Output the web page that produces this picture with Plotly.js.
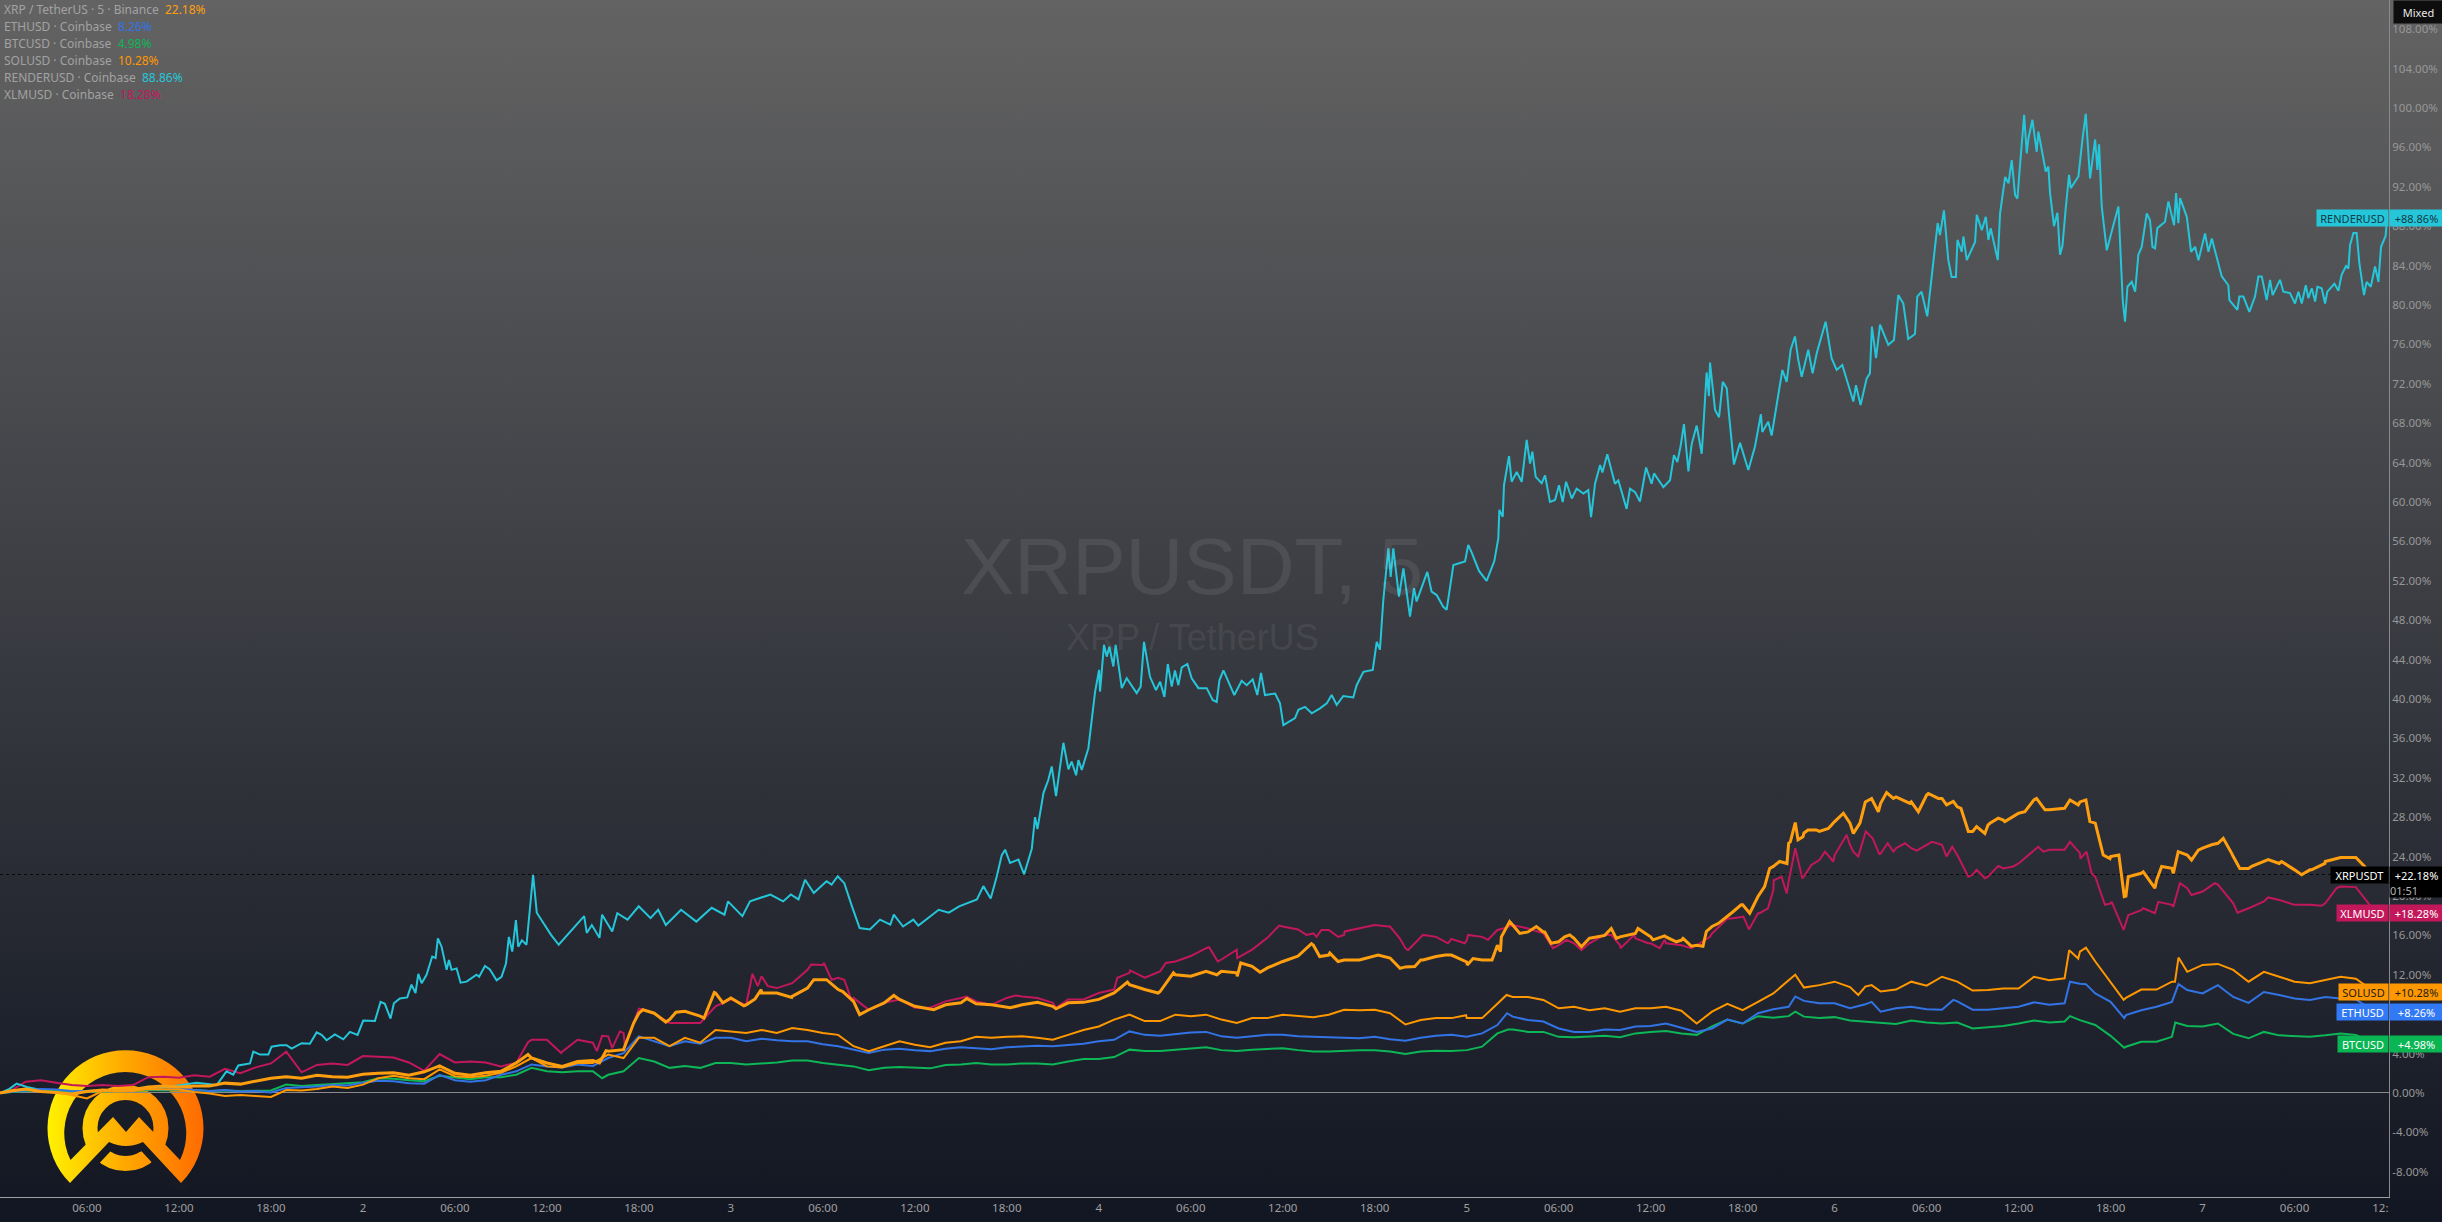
<!DOCTYPE html>
<html>
<head>
<meta charset="utf-8">
<script src="https://cdn.plot.ly/plotly-3.0.1.min.js"></script>
<style>
html,body{margin:0;padding:0;width:2442px;height:1222px;overflow:hidden;background:linear-gradient(180deg,#636363 0%,#121622 100%);}
#chart{width:2442px;height:1222px;}
</style>
</head>
<body>
<div id="chart"></div>
<script>
// Hours since the start of day 1 (shared by five of the series)
const hours = [0.33,
 1,2,3,4,5,6,7,8,9,10,11,12,13,14,15,16,17,18,19,20,
 21,22,23,24,25,26,27,28,29,30,31,32,33,34,35,36,37,38,39,40,
 41,42,43,44,45,46,47,48,49,50,51,52,53,54,55,56,57,58,59,60,
 61,62,63,64,65,66,67,68,69,70,71,72,73,74,75,76,77,78,79,80,
 81,82,83,84,85,86,87,88,89,90,91,92,93,94,95,96,97,98,99,100,
 101,102,103,104,105,106,107,108,109,110,111,112,113,114,115,116,117,118,119,120,
 121,122,123,124,125,126,127,128,129,130,131,132,133,134,135,136,137,138,139,140,
 141,142,143,144,145,146,147,148,149,150,151,152,153,154,155,156];

const xrp = [0,
 .2,.4,.15,.05,-.1,.15,.3,.25,.35,.6,
 .7,.6,.7,.7,1.0,.9,1.2,1.5,1.65,1.5,
 1.8,1.65,1.6,1.9,2.0,2.05,1.8,2.15,2.75,2.0,
 1.8,2.05,2.2,3.05,3.55,3.05,2.7,3.2,3.3,4.25,
 4.4,8.1,8.1,7.45,8.3,7.8,10.15,9.65,8.95,10.15,
 10.15,9.8,10.65,11.5,10.5,9.3,8.45,9.15,9.5,8.8,
 8.55,8.95,9.15,9.05,8.95,8.65,8.95,9.2,8.8,9.15,
 9.2,9.5,10.15,11,10.5,10.3,12,11.85,12.35,12.35,
 12.2,12.85,12.7,13.35,13.9,15,14,13.5,13.5,13.85,
 13.7,12.8,13.5,13.85,14,13.3,13.5,15,17.05,16.35,
 16.35,15.35,15.7,15.7,16,15.85,16.2,15.85,15.85,15.5,
 15,16.9,17.9,19.1,19.95,23,25.35,26.4,26.55,27.55,
 27.4,29.55,29.4,30.05,29.55,30.25,29.9,29.05,26.55,27.2,
 27.7,28.4,29.75,28.75,28.9,29.55,27.4,24,20,22.3,
 21.6,22.8,24.15,24.85,25.35,24,22.8,23.5,23.3,22.65,
 22.65,23.5,23.9,23.9,22.3,22.18];
const xrpExtraHours = [34.77,39.43,39.86,41.66,42.26,43.76,44.42,46.25,46.92,47.48,48.85,49.58,49.98,51.97,53.41,54.24,55.3,56.4,57.73,58.63,61.23,63.39,66.22,69.21,73.87,75.87,76.87,79.7,81.03,81.26,82.52,85.43,85.87,86.41,87.07,87.61,90.22,91.65,92.61,93.15,94.6,96.04,96.41,97.65,98.2,98.26,98.8,99.46,100.54,101.09,101.5,102.39,102.72,103.48,104.02,105.43,105.76,107.17,108.15,108.91,109.67,110.11,110.65,111.41,111.63,112.4,113.37,113.9,114.46,115.43,115.76,116.41,116.89,117.11,117.43,117.61,117.93,118.26,118.8,119.59,120.57,121.22,121.65,122.41,122.85,123.39,123.83,124.91,125.46,126.11,126.76,127.3,127.74,128.24,128.72,129.26,129.8,130.13,130.67,131.1,132.41,133.17,133.72,135.35,135.89,136.39,136.65,137.52,137.96,138.54,138.89,139.15,140.13,140.89,141.33,142.09,142.41,143.28,143.72,144.59,145.35,145.89,146.43,147.2,148.28,149.15,150.46,151.11,151.98];
const xrpExtraValues = [3.9,3.05,4.3,7.1,8.45,7.2,8.2,7.6,10.2,9.15,8.85,9.55,10.5,9.7,11.5,11.5,10.3,7.95,8.95,9.9,8.45,9.6,8.65,8.55,11.25,10.15,12.2,12,11.85,13.2,12.25,14.5,15.15,13.85,14.2,13.35,14,12.65,12.85,13.5,14,13,13.65,13.5,14.35,15.85,17.4,16.2,16.9,16.35,15.2,15.85,16.05,14.85,15.7,16.7,15.7,16.7,15.55,15.95,15.35,15.7,14.9,14.9,16.4,17.2,18.4,19.1,18.25,20.95,22.8,23.5,23.3,25.5,27.45,25.7,26,26.7,26.7,26.85,28.4,26.35,27.4,29.9,28.55,30.5,29.9,29.4,28.55,30.4,29.9,29.25,29.6,28.9,26.55,27.05,26.35,27.4,27.9,27.55,28.55,29.9,28.75,29.75,29.25,29.75,27.55,24.15,23.8,24.15,19.95,21.95,22.45,20.8,23,22.3,24.5,23.65,24.65,25.2,25.85,24.35,22.8,23,23.7,23.5,22.15,22.65,23.3];

const xlm = [0,
 .2,1.15,1.3,1.05,.8,.7,.8,.7,.8,1.6,
 1.65,1.55,1.8,1.65,2.45,2,2.6,3.0,4.2,2.1,
 2.85,3,2.85,3.75,3.7,3.6,3.1,2.25,3.95,3.1,
 3.2,3.1,2.7,3.05,5.4,5.4,4.2,5.4,5.1,5.75,
 6.1,8.55,8.1,7.1,7.1,7.1,8.8,9.5,8.95,11.85,
 10.65,11.15,12.5,13,11.7,9.65,8.45,9.15,9.5,8.65,
 8.65,9.3,9.65,9.3,8.95,9.65,9.8,9.65,9.15,9.5,
 9.5,10.15,10.5,12.2,11.7,12.35,13.35,13.9,14.7,13.55,
 14.55,14.55,15.75,16.9,16.6,16.2,16.55,16.05,16.7,17.05,
 16.9,14.7,15.85,15.85,15.65,15.5,15.85,16.55,17.05,16.7,
 16.2,15,15.2,15.2,16.05,15,15.7,15.2,15.2,15,
 15,16.2,17.7,17.9,18.25,20.6,21.5,22,23.65,24.15,
 25.2,26.35,24.3,24.85,24.85,25.2,25.2,24.15,22.15,21.95,
 22.8,23.3,24.7,24.7,24.7,24.35,21.95,19.25,17.2,18.55,
 18.75,19.1,20.8,20.45,21.15,19.25,18.75,19.45,19.6,19.1,
 19.1,19.25,20.95,20.9,18.9,18.28];
const xlmExtraHours = [34.77,36.93,39.26,39.6,40.26,40.76,41.09,42.09,49.41,49.75,50.41,53.24,54.07,54.57,55.4,55.9,63.39,66.55,69.21,73.21,74.04,76.37,79.2,79.76,81.03,83.76,85.54,86.2,86.52,87.61,88.04,90.87,91.63,92.17,93.15,94.78,95.87,96.09,97.39,98.37,101.63,102.5,103.48,105.43,106.03,106.93,107.83,108.59,108.91,110.65,111.87,113.37,114.05,114.41,115.11,115.65,116.03,116.54,116.87,117.43,117.89,118.48,119.37,119.91,120.78,121.22,121.54,122.03,122.48,122.91,123.46,123.83,124.59,125.35,126.35,127.3,127.67,128.72,129.26,129.8,130.67,131.65,133.28,133.61,135.35,136.03,136.43,136.76,137.63,138.07,138.85,139.15,140.13,140.89,141.11,142.09,142.52,143.28,144.8,146.28,148.28,151.76,152.74];
const xlmExtraValues = [5.15,4.05,4.25,5.8,4.55,6.25,4.75,8.55,12.1,10.85,10.85,13.05,13.2,11.5,11.5,9.3,9.8,9.9,8.65,11.7,12.45,13.2,14.8,13.35,13.7,17,16.05,15.85,16.55,15.85,16.4,16.9,15.7,14.5,16.05,15.2,15.2,16.05,15.55,16.7,14.7,15.55,14.5,16.05,14.7,16.05,15.2,14.7,15.55,14.7,15.85,17.75,17.9,16.6,18.25,18.75,21.6,21.95,20.25,24.85,21.8,23.15,24.5,23.5,26.2,24.5,24,26.55,25.85,24.25,25.35,24.5,25.35,24.6,25.5,24,25,21.95,22.65,21.8,23.05,23,25,24.5,25.5,23.8,24.5,22.3,19.1,19.4,16.55,18.05,18.75,18.25,19.4,18.9,21.3,20.1,21.3,18.3,19.85,19,20.8];

const sol = [0,
 .2,.4,.15,.05,-.2,-.55,.2,.15,.2,.4,
 .35,.35,.1,-.05,-.3,-.2,-.3,-.4,.3,.25,
 .4,.65,.5,.85,1.5,1.75,1.5,1.4,2.4,1.7,
 1.6,1.75,2.05,2.7,3.55,2.7,2.6,3.05,3.05,3.9,
 3.55,5.6,5.6,4.75,5.6,5.1,6.4,6.25,6.1,6.4,
 6.1,6.6,6.4,6.1,5.9,4.75,4.25,4.75,5.25,4.9,
 4.65,5.1,5.25,5.7,5.6,5.7,5.75,5.6,5.4,5.9,
 6.4,6.75,7.45,7.95,7.3,7.3,7.95,7.8,7.95,7.45,
 7.1,7.6,7.6,7.95,7.8,7.7,7.95,8.45,8.4,8.45,
 8.1,6.95,7.4,7.6,7.6,7.6,7.6,9.05,9.75,9.75,
 9.45,8.6,8.75,8.4,8.6,8.25,8.6,8.6,8.75,8.35,
 7.05,8.25,9.05,8.4,9.25,10.1,11.45,10.7,10.95,11.3,
 10.75,10.8,10.3,10.5,11.3,10.9,11.8,11.3,10.4,10.45,
 10.6,10.6,11.8,11.45,11.65,14.35,13.35,11.3,9.65,10.5,
 10.5,11.3,12.3,13,13.1,12.5,11.3,12.3,11.8,11.3,
 11.15,11.5,11.8,11.6,10.5,10.28];
const solExtraHours = [95.96,98.6,117.43,121.54,122.41,135.3,135.89,136.39,138.85,142.2,142.43];
const solExtraValues = [7.9,9.95,12,9.95,10.95,14.5,13.65,14.75,9.45,11.3,13.75];

const eth = [0,
 .1,.3,.4,.35,.2,.15,.25,.25,.3,.4,
 .35,.4,.3,.2,.3,.15,.2,.05,.5,.55,
 .65,.8,.75,1.05,1.25,1.2,1.0,.95,1.85,1.3,
 1.15,1.3,1.85,2.2,2.9,2.7,2.6,2.9,2.75,3.55,
 4.05,5.75,5.25,4.75,5.25,5,5.6,5.6,5.25,5.5,
 5.35,5.25,5.25,4.95,4.75,4.4,4.05,4.4,4.5,4.35,
 4.25,4.5,4.65,4.55,4.45,4.65,4.75,4.8,4.75,4.9,
 5.0,5.25,5.4,6.25,5.9,5.8,6,6.15,6.2,5.75,
 5.6,5.75,5.9,5.9,5.75,5.7,5.65,5.55,5.55,5.7,
 5.45,5.3,5.6,5.8,5.9,5.7,6.05,6.9,7.75,7.4,
 7.25,6.55,6.2,6.2,6.45,6.4,6.75,6.8,7.05,6.65,
 6.2,6.55,7.45,7.05,8.1,8.5,8.75,9.35,9.1,9.1,
 8.6,9.0,8.25,8.6,8.75,8.5,8.45,9.3,8.45,8.45,
 8.6,8.75,9.2,8.95,9.1,11.1,10.1,9.25,7.9,8.4,
 8.75,9.25,10.45,10.1,10.95,9.75,9.15,10.25,9.95,9.6,
 9.45,9.75,9.6,9.5,8.5,8.26];
const ethExtraHours = [98.63,117.43,122.41,127.74,135.35,136.39,138.89,142.43];
const ethExtraValues = [8.1,9.8,9.25,9.45,11.3,11.05,7.6,11.05];

const btc = [0,
 .1,.2,.25,.2,.1,.1,.15,.15,.2,.3,
 .25,.3,.3,.2,.25,.2,.2,.25,.85,.7,
 .8,.9,1.0,1.1,1.5,1.45,1.3,1.2,1.75,1.55,
 1.4,1.6,1.6,1.85,2.55,2.2,2.1,2.2,2.2,1.85,
 2.2,3.55,3.2,2.55,2.75,2.55,3.05,3.05,2.9,3,
 3.1,3.3,3.3,3.05,2.9,2.7,2.3,2.55,2.65,2.55,
 2.5,2.85,2.9,3.05,2.9,2.9,3,3,2.9,3.2,
 3.45,3.45,3.65,4.4,4.25,4.25,4.4,4.5,4.65,4.35,
 4.25,4.4,4.5,4.55,4.35,4.2,4.2,4.3,4.35,4.35,
 4.2,3.95,4.2,4.3,4.25,4.35,4.7,6.05,6.45,6.2,
 6.2,5.7,5.65,5.7,5.8,5.65,6.05,6.2,6.3,6.05,
 5.9,6.75,7.45,7.05,7.8,7.65,7.8,7.75,7.6,7.7,
 7.35,7.25,7.15,7,7.35,7.15,7.05,7.15,6.55,6.65,
 6.8,7.05,7.35,7.15,7.25,7.4,6.9,5.8,4.7,5.2,
 5.2,5.7,6.8,6.75,7.05,6,5.55,6.2,5.85,5.75,
 5.7,5.85,6.05,5.9,5.1,4.98];
const btcExtraHours = [39.6,98.7,117.43,135.35,138.89,142.22];
const btcExtraValues = [1.5,6.45,8.25,7.8,4.6,7.15];

// RENDERUSD was read at its own, denser set of turning points
const renderHours = [.33,.87,1.41,2.07,3.15,4.67,6.85,9.89,13.15,14.46,15.1,15.54,15.87,16.63,16.85,17.28,17.83,18.04,18.59,19.02,19.35,20,20.54,20.98,21.3,21.63,22.17,22.72,23.15,23.65,24.02,24.78,25.15,25.43,25.8,26.02,26.41,26.89,27.17,27.43,27.61,27.83,28.15,28.52,28.74,28.89,29.13,29.46,29.61,29.78,30.11,30.37,30.76,31.41,31.58,31.96,32.28,32.72,33.04,33.33,33.52,33.74,33.98,34.13,34.37,
 34.67,35.10,35.34,35.77,36.27,36.77,37.27,37.93,38.43,38.6,38.93,39.43,39.6,40.26,40.59,41.26,41.99,42.76,43.26,43.76,44.75,45.75,46.75,47.58,47.81,48.75,49.25,50.58,51.41,51.91,52.41,52.84,53.41,54.24,54.57,54.97,55.4,55.9,56.4,57.07,57.73,58.4,58.63,59.23,59.9,60.23,61.56,62.22,62.89,64.05,
 64.47,64.95,65.34,65.67,65.89,66.21,66.76,67.13,67.63,67.84,68,68.39,68.71,68.93,69.21,69.69,70.02,70.23,70.52,70.67,70.89,71.32,71.54,71.76,72.02,72.08,72.34,72.52,72.69,72.95,73.1,73.5,73.82,74.47,74.73,74.95,75.34,75.73,76,76.28,76.5,76.76,76.97,77.19,77.41,77.78,78.06,78.5,79.04,79.43,79.69,79.87,80.13,80.84,81.32,81.65,82.04,82.34,82.58,82.84,83.5,83.82,84.04,84.8,85.02,85.45,85.89,86.43,86.87,87.19,87.52,87.95,88.6,88.82,89.26,89.87,90.13,90.34,90.56,90.89,91.04,91.21,91.58,91.87,91.97,92.3,92.56,92.73,93.43,93.71,94.04,94.47,94.69,94.91,95.13,95.89,96.1,96.34,96.8,97.3,97.8,
 98.06,98.13,98.35,98.43,98.76,98.93,99.26,99.59,99.91,100.13,100.28,100.5,100.89,101.11,101.43,101.76,102.02,102.26,102.48,102.85,103.17,103.61,103.93,104.11,104.37,104.7,104.85,105.17,105.67,105.89,106.43,106.65,106.98,107.3,107.7,108.06,108.22,108.83,109.26,109.52,109.74,109.96,110.17,110.46,110.67,111,111.33,111.65,111.8,111.87,112.2,112.46,112.7,112.96,113.11,113.43,113.83,114.37,114.8,115.19,115.28,115.67,115.89,116.22,116.59,116.87,117.13,117.41,117.63,117.85,118.28,118.56,118.83,119.41,119.8,120.13,120.5,121.22,121.39,121.69,122.09,122.3,122.43,122.7,122.96,123.5,123.87,124.15,124.48,124.8,125.24,125.39,125.67,126.04,126.43,126.72,126.87,127.13,127.41,127.63,127.91,
 128.01,128.29,128.4,128.62,128.94,129.16,129.27,129.6,129.86,130.03,130.18,130.47,130.64,130.79,131.12,131.34,131.55,131.77,131.92,132.1,132.36,132.53,132.64,132.9,133.18,133.29,133.51,133.77,133.94,134.05,134.31,134.53,134.7,134.86,135.07,135.29,135.4,135.9,136.16,136.38,136.66,136.99,137.14,137.25,137.42,137.75,138.18,138.51,138.79,138.94,139.1,139.38,139.6,139.81,140.03,140.36,140.57,140.73,140.9,141.05,141.55,141.77,142.14,142.27,142.42,142.53,142.97,143.25,143.51,143.73,144.16,144.38,144.6,145.25,145.68,145.75,146.27,146.4,146.66,147.05,147.42,147.64,147.86,148.18,148.4,148.57,149.05,149.27,149.7,150.03,150.25,150.47,150.73,150.9,151.12,151.34,151.49,151.77,151.99,152.14,152.6,152.86,153.07,153.36,153.51,153.62,153.84,154.05,154.23,154.53,154.7,154.97,155.25,155.47,155.64,155.79,155.94,156.03];

const render = [0,.35,.95,.6,.25,.15,.25,.3,1.05,.8,2.2,1.85,2.8,3.0,4.2,3.9,3.9,4.7,4.85,4.85,4.5,5.05,5,6.15,5.9,5.35,5.95,5.45,6.2,5.9,7.35,7.3,9.25,9.05,7.55,9.1,9.6,9.7,11,10.15,12.1,11.15,12,13.85,13.7,15.7,14.85,12.5,13.5,12.5,12.65,11.2,11.3,12,11.8,12.9,12.55,11.45,11.8,13.15,15.85,14.35,17.55,14.85,15.5,
 15.05,22.15,18.3,17.25,16.05,15.05,15.9,17.1,17.95,16.25,17.05,15.75,18.1,16.4,18.25,17.6,18.95,17.75,18.6,17.05,18.6,17.4,18.8,18.1,19.45,17.95,19.45,20.15,19.45,20.15,19.65,21.65,20.3,21.5,21.15,22,21.3,18.95,16.75,16.6,17.6,17.1,18.1,16.9,17.6,17,18.6,18.3,18.95,19.65,
 21,19.75,21.95,24.15,24.7,23.35,23.7,22.2,24.8,28,26.8,30.45,31.8,33.15,30.15,35.55,32.85,33.65,32.25,33.8,32.8,35,38.2,40.75,42.95,40.75,45.5,44.3,45.3,43.3,45.5,41.1,42.1,40.6,41.25,45.8,42.25,40.9,41.75,40.2,43.55,41.25,42.9,41.4,43.2,43.55,42.1,41.1,41.1,39.9,39.7,41.9,42.9,40.4,41.85,41.4,42,40.4,42.65,40.4,40.55,39.55,37.35,38.05,38.9,39.2,38.55,39.05,39.55,40.4,39.4,40.3,40.15,41.4,42.75,42.95,45.8,45,50.05,55.3,52.4,55.3,50.4,53.25,52.1,48.35,51.25,49.9,52.9,50.9,50.55,49.35,49.05,51.4,53.6,53.95,55.65,54.8,53,52,54,
 56.3,59.2,58.5,61.7,64.65,62.05,63.05,62.05,66.3,63.9,65.1,62.55,61.9,62.7,60,60.2,61.7,60,62.05,60.35,61.35,60.85,61.2,58.45,61.85,63.75,63,64.85,61.85,62.2,59.3,61.35,61,60.05,63.5,61.85,62.9,61.5,62.2,64.75,64.05,65.75,67.9,63.1,65.85,67.75,64.9,73.15,70.75,74.15,69.35,68.6,72.2,71.55,68.85,63.8,66,63.25,65.6,68.9,67.1,68.15,66.75,69.8,73.4,72.2,75.45,76.8,74.4,72.7,75.45,73.05,75.1,78.3,74.6,73.4,73.9,70.2,71.85,69.85,72.55,73.05,77.8,74.6,78,75.95,76.45,81,80.15,76.55,77.05,80.85,81.35,78.85,84.45,88.3,87.1,89.6,84.6,82.85,82.85,
 86.6,85.4,86.95,84.55,85.55,86.4,89.15,87.6,88.95,86.6,87.8,85.9,84.55,89.3,93,92.35,94.7,91.15,90.8,94.35,99.3,95.4,96.9,98.8,95.55,97.6,95.9,93.55,94.05,91.35,88,89.35,85.1,86,89.75,93.2,91.85,93.05,96.75,99.4,92.85,96.8,93.7,96.3,90,85.55,88.1,90,80.5,78.3,81.85,82.35,81.35,85.1,85.9,89.3,88.6,85.9,85.75,87.8,88.45,90.5,88.1,91.35,88.3,90.85,88.95,85.4,85.9,84.55,87.25,85.4,86.75,82.9,82,80.5,79.5,80.85,80.85,79.3,80.85,82.9,82.9,80.5,82.55,81,82.55,81.35,81.2,80.15,81.35,80.15,82,80.7,81.7,80.35,81.85,81.7,80.15,81.35,82.15,81.45,83.05,83.95,83.7,86.1,87.3,87.3,84.2,81,82.35,81.85,83.9,82.35,85.9,86.4,87,88.86];

const xTickVals = [6,12,18,24,30,36,42,48,54,60,66,72,78,84,90,96,102,108,114,120,126,132,138,144,150,155.6];
const xTickText = ["06:00","12:00","18:00","2","06:00","12:00","18:00","3","06:00","12:00","18:00","4","06:00","12:00","18:00","5","06:00","12:00","18:00","6","06:00","12:00","18:00","7","06:00","12:"];
const yTickVals = [-8,-4,0,4,8,12,16,20,24,28,32,36,40,44,48,52,56,60,64,68,72,76,80,84,88,92,96,100,104,108];
const yTickText = ["-8.00%","-4.00%","0.00%","4.00%","8.00%","12.00%","16.00%","20.00%","24.00%","28.00%","32.00%","36.00%","40.00%","44.00%","48.00%","52.00%","56.00%","60.00%","64.00%","68.00%","72.00%","76.00%","80.00%","84.00%","88.00%","92.00%","96.00%","100.00%","104.00%","108.00%"];

const legendNames = ["XRP / TetherUS · 5 · Binance","ETHUSD · Coinbase","BTCUSD · Coinbase","SOLUSD · Coinbase","RENDERUSD · Coinbase","XLMUSD · Coinbase"];
const legendValues = ["22.18%","8.26%","4.98%","10.28%","88.86%","18.28%"];
const colours = ["#ff9f0f","#3274e6","#0db657","#ff9800","#26c6da","#c2185b"];
const priceNames = ["XRPUSDT","ETHUSD","BTCUSD","SOLUSD","RENDERUSD","XLMUSD"];
const priceLast = [22.18,8.26,4.98,10.28,88.86,18.28];
const priceText = ["+22.18%","+8.26%","+4.98%","+10.28%","+88.86%","+18.28%"];
const priceBg = ["#000000","#3179f5","#0ab554","#ff9800","#26c6da","#c2185b"];
const priceFg = ["#ffffff","#ffffff","#ffffff","#1b1b1b","#123a44","#ffffff"];
const nameWidth = [57,51,50,49,71,51];
const valueWidth = [53,53,53,53,53,53];

const uiFont = "Noto Sans";
const PW = 2389, PH = 1197;

// Merge the hourly readings with the extra readings taken at turning points
function merged(h, v, eh, ev) {
  const rows = h.map((t,i)=>[t,v[i]]).concat(eh.map((t,i)=>[t,ev[i]]));
  rows.sort((a,b)=>a[0]-b[0]);
  return {x:rows.map(r=>r[0]), y:rows.map(r=>r[1])};
}

const logoSvg = `<svg xmlns="http://www.w3.org/2000/svg" width="170" height="150" viewBox="40 1040 170 150">
<defs><linearGradient id="g" gradientUnits="userSpaceOnUse" x1="47" y1="0" x2="204" y2="0">
<stop offset="0" stop-color="#fff200"/><stop offset="0.5" stop-color="#ffa800"/><stop offset="1" stop-color="#ff6a00"/></linearGradient></defs>
<circle cx="125.5" cy="1128" r="35.5" fill="none" stroke="url(#g)" stroke-width="15"/>
<path d="M66 1188 L109 1142 Q126 1152 143 1142 L186 1188" fill="none" stroke="#171a25" stroke-width="15" stroke-linejoin="round"/>
<path fill-rule="evenodd" fill="url(#g)" d="M70 1183 A78 78 0 1 1 181 1183 L143 1142 Q126 1150 109 1142 Z M70.5 1160 L113 1117 L126 1132 L139 1117 L180 1160 A61 61 0 1 0 70.5 1160 Z"/>
</svg>`;

const xrpLine = merged(hours,xrp,xrpExtraHours,xrpExtraValues);
const xlmLine = merged(hours,xlm,xlmExtraHours,xlmExtraValues);
const solLine = merged(hours,sol,solExtraHours,solExtraValues);
const ethLine = merged(hours,eth,ethExtraHours,ethExtraValues);
const btcLine = merged(hours,btc,btcExtraHours,btcExtraValues);

const traces = [
 {name:"XLMUSD", x:xlmLine.x, y:xlmLine.y, color:colours[5], w:2},
 {name:"RENDERUSD", x:renderHours, y:render, color:colours[4], w:2},
 {name:"BTCUSD", x:btcLine.x, y:btcLine.y, color:colours[2], w:2},
 {name:"ETHUSD", x:ethLine.x, y:ethLine.y, color:colours[1], w:2},
 {name:"SOLUSD", x:solLine.x, y:solLine.y, color:colours[3], w:2},
 {name:"XRPUSDT", x:xrpLine.x, y:xrpLine.y, color:colours[0], w:3}
].map(t => ({type:"scatter",mode:"lines",name:t.name,x:t.x,y:t.y,line:{color:t.color,width:t.w,shape:"linear"},hoverinfo:"skip"}));

const annotations = [];
// Watermark
annotations.push({xref:"paper",yref:"paper",x:1192/PW,y:(PH-566)/PH,text:"XRPUSDT, 5",showarrow:false,xanchor:"center",yanchor:"middle",
  font:{family:"Liberation Sans",size:80,color:"rgba(255,255,255,0.08)"}});
annotations.push({xref:"paper",yref:"paper",x:1192/PW,y:(PH-637)/PH,text:"XRP / TetherUS",showarrow:false,xanchor:"center",yanchor:"middle",
  font:{family:"Liberation Sans",size:36,color:"rgba(255,255,255,0.08)"}});
// Legend
legendNames.forEach((n,i)=>{
  annotations.push({xref:"paper",yref:"paper",x:3/PW,y:(PH-(9+17*i))/PH,xanchor:"left",yanchor:"middle",showarrow:false,align:"left",
    text:n+'&nbsp;&nbsp;<span style="color:'+colours[i]+'">'+legendValues[i]+'</span>',
    font:{family:uiFont,size:12,color:"#a2a2a2"},borderpad:0});
});
// Price labels on the right axis
priceNames.forEach((n,i)=>{
  annotations.push({xref:"paper",yref:"y",x:1,y:priceLast[i],xanchor:"right",yanchor:"middle",showarrow:false,
    text:n,width:nameWidth[i],height:16,align:"center",valign:"middle",bgcolor:priceBg[i],borderpad:0,
    font:{family:uiFont,size:11,color:priceFg[i]}});
  annotations.push({xref:"paper",yref:"y",x:1,y:priceLast[i],xanchor:"left",yanchor:"middle",showarrow:false,
    text:priceText[i],width:valueWidth[i],height:16,align:"center",valign:"middle",bgcolor:priceBg[i],borderpad:0,
    font:{family:uiFont,size:11,color:priceFg[i]}});
});
annotations.push({xref:"paper",yref:"paper",x:1,y:(PH-890)/PH,xanchor:"left",yanchor:"middle",showarrow:false,
  text:"01:51",width:53,height:14,align:"left",bgcolor:"#000000",borderpad:0,
  font:{family:uiFont,size:11,color:"#b5b5b5"}});
annotations.push({xref:"paper",yref:"paper",x:2393/PW,y:1,xanchor:"left",yanchor:"top",showarrow:false,
  text:"Mixed",width:49,height:22,align:"center",valign:"middle",bgcolor:"#0d0d0d",borderpad:0,
  font:{family:uiFont,size:11,color:"#e8e8e8"}});

const layout = {
  width:2442,height:1222,
  margin:{l:0,r:53,t:0,b:25,pad:0},
  paper_bgcolor:"rgba(0,0,0,0)",plot_bgcolor:"rgba(0,0,0,0)",
  showlegend:false,hovermode:false,
  xaxis:{range:[0.326,156.16],showgrid:false,zeroline:false,showline:true,linecolor:"#a0a0a0",linewidth:1,
    ticks:"",tickmode:"array",tickvals:xTickVals,ticktext:xTickText,tickangle:0,
    tickfont:{family:uiFont,size:11.5,color:"#a0a0a0"},automargin:false,fixedrange:true},
  yaxis:{range:[-10.56,110.96],side:"right",showgrid:false,zeroline:true,zerolinecolor:"#8a8a8a",zerolinewidth:1,
    showline:true,linecolor:"#8a8a8a",linewidth:1,ticks:"",tickmode:"array",tickvals:yTickVals,ticktext:yTickText,
    tickfont:{family:uiFont,size:11.5,color:"#979797"},automargin:false,fixedrange:true},
  shapes:[{type:"line",xref:"paper",yref:"y",x0:0,x1:1,y0:22.18,y1:22.18,layer:"below",line:{color:"#0a0a0a",width:1,dash:"dot"}}],
  images:[{source:"data:image/svg+xml;charset=utf-8,"+encodeURIComponent(logoSvg),xref:"paper",yref:"paper",
    x:40/PW,y:(PH-1040)/PH,sizex:170/PW,sizey:150/PH,sizing:"stretch",xanchor:"left",yanchor:"top",layer:"below"}],
  annotations:annotations
};

Plotly.newPlot("chart",traces,layout,{displayModeBar:false,staticPlot:true});
</script>
</body>
</html>
